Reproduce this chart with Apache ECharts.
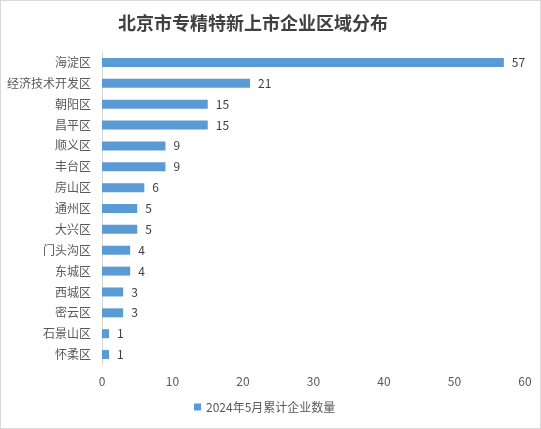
<!DOCTYPE html>
<html><head><meta charset="utf-8">
<script src="https://cdn.jsdelivr.net/npm/echarts@6/dist/echarts.min.js"></script>
<style>html,body{margin:0;padding:0;background:#fff}#c{width:541px;height:429px;box-sizing:border-box;border:1px solid #d9d9d9}</style>
</head><body><div id="c"></div>
<script>
const categories = ['海淀区','经济技术开发区','朝阳区','昌平区','顺义区','丰台区','房山区','通州区','大兴区','门头沟区','东城区','西城区','密云区','石景山区','怀柔区'];
const values = [57,21,15,15,9,9,6,5,5,4,4,3,3,1,1];
const seriesName = '2024年5月累计企业数量';
const titleText = '北京市专精特新上市企业区域分布';
const font = '"Noto Sans CJK SC", sans-serif';
const chart = echarts.init(document.getElementById('c'), null, {renderer:'canvas'});
chart.setOption({
  animation:false,
  title:{text:titleText,left:112,top:8,textStyle:{fontFamily:font,fontSize:18,fontWeight:'bold',color:'#404040'}},
  legend:{bottom:10,left:188,itemWidth:7,itemHeight:7,icon:'rect',textStyle:{fontFamily:font,fontSize:12,color:'#595959'},data:[seriesName]},
  grid:{left:101,right:15,top:51,bottom:63,containLabel:false},
  xAxis:{type:'value',min:0,max:60,interval:10,splitLine:{show:false},axisLine:{show:false},axisTick:{show:false},
    axisLabel:{fontFamily:font,fontSize:12,color:'#595959',margin:10}},
  yAxis:{type:'category',inverse:true,data:categories,axisLine:{show:true,lineStyle:{color:'#d9d9d9'}},axisTick:{show:false},
    axisLabel:{fontFamily:font,fontSize:12,color:'#595959',margin:11}},
  series:[{name:seriesName,type:'bar',data:values,barWidth:9,itemStyle:{color:'#5b9bd5'},
    label:{show:true,position:'right',distance:8,fontFamily:font,fontSize:12,color:'#404040'}}]
});
</script></body></html>
